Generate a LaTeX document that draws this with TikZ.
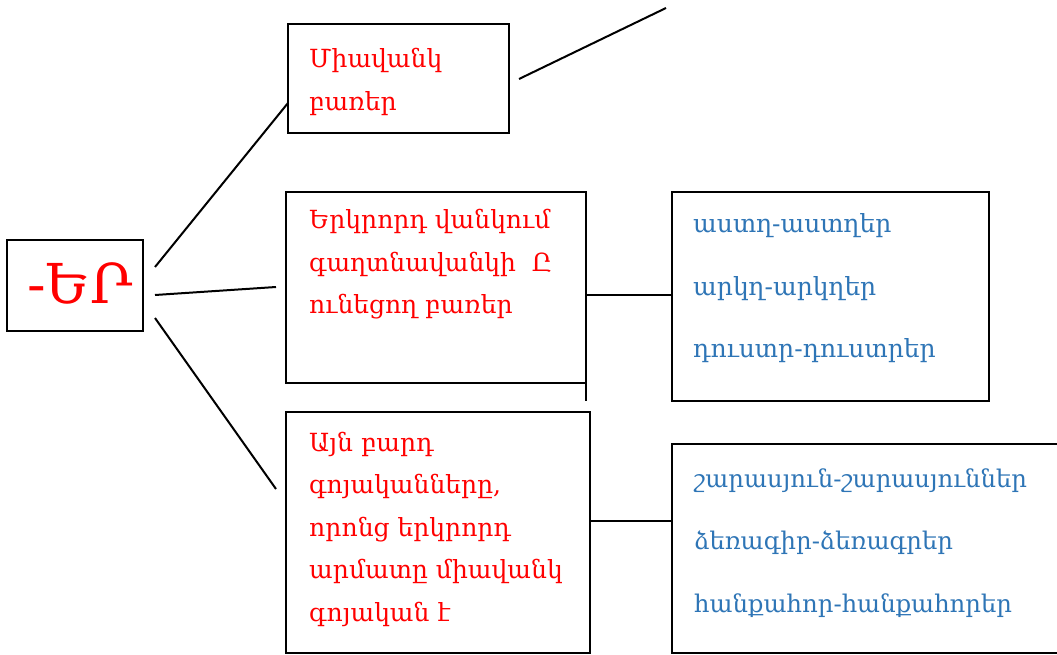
\documentclass[tikz,border=0pt]{standalone}
\usepackage{fontspec}
\setmainfont{DejaVu Serif}
\definecolor{tred}{RGB}{255,0,0}
\definecolor{tblue}{RGB}{46,117,182}
\newcommand{\boxlines}[1]{\begin{tabular}[t]{@{}l@{}}#1\end{tabular}}
\begin{document}
\begin{tikzpicture}[x=1pt,y=-1pt,
  box/.style={draw=black,line width=2.3pt,anchor=north west,inner sep=0pt,outer sep=0pt,rectangle},
  conn/.style={draw=black,line width=2pt},
  redtxt/.style={text=tred,anchor=base west,inner sep=0pt,font=\fontsize{25}{42.5}\selectfont},
  bluetxt/.style={text=tblue,anchor=base west,inner sep=0pt,font=\fontsize{25}{62.5}\selectfont}]
\clip (0,0) rectangle (1057,655);
\fill[white] (0,0) rectangle (1057,655);
% boxes
\node[box,minimum width=136pt,minimum height=91pt] (er) at (7,240) {};
\node[box,minimum width=221pt,minimum height=109pt] (b1) at (288,24) {};
\node[box,minimum width=300pt,minimum height=191pt] (b2) at (286,192) {};
\node[box,minimum width=317pt,minimum height=209pt] (b3) at (672,192) {};
\node[box,minimum width=304pt,minimum height=241pt] (b4) at (286,412) {};
\node[box,minimum width=420pt,minimum height=209pt] (b5) at (672,444) {};
% texts
\node[text=tred,anchor=base west,inner sep=0pt,font=\fontsize{55}{58}\selectfont] (ter) at (27,303) {-ԵՐ};
\node[redtxt] (t1) at (309,68) {\boxlines{Միավանկ\\բառեր}};
\node[redtxt] (t2) at (309,229) {\boxlines{Երկրորդ վանկում\\գաղտնավանկի\ \ Ը\\ունեցող բառեր}};
\node[redtxt] (t4) at (309,451) {\boxlines{Այն բարդ\\գոյականները,\\որոնց երկրորդ\\արմատը միավանկ\\գոյական է}};
\node[bluetxt] (t3) at (693,233) {\boxlines{աստղ-աստղեր\\արկղ-արկղեր\\դուստր-դուստրեր}};
\node[bluetxt,font=\fontsize{24.3}{62.5}\selectfont] (t5) at (694,487) {\boxlines{շարասյուն-շարասյուններ\\ձեռագիր-ձեռագրեր\\հանքահոր-հանքահորեր}};
% connector coordinates
\coordinate (s1) at (155,267);
\coordinate (s2) at (155,295);
\coordinate (s3) at (155,318);
\coordinate (e1) at (288,103);
\coordinate (e2) at (276,287);
\coordinate (e3) at (276,489);
\coordinate (u1) at (519,79);
\coordinate (u2) at (666,8);
\coordinate (b2ext) at (586,401);
\coordinate (m2) at (586,295);
\coordinate (m4) at (590,521);
\coordinate (n3) at (672,295);
\coordinate (n5) at (672,521);
% connectors
\draw[conn] (s1) -- (e1);
\draw[conn] (s2) -- (e2);
\draw[conn] (s3) -- (e3);
\draw[conn] (u1) -- (u2);
\draw[conn,line width=2.3pt] (b2.south east) -- (b2ext);
\draw[conn] (m2) -- (n3);
\draw[conn] (m4) -- (n5);
\end{tikzpicture}
\end{document}
